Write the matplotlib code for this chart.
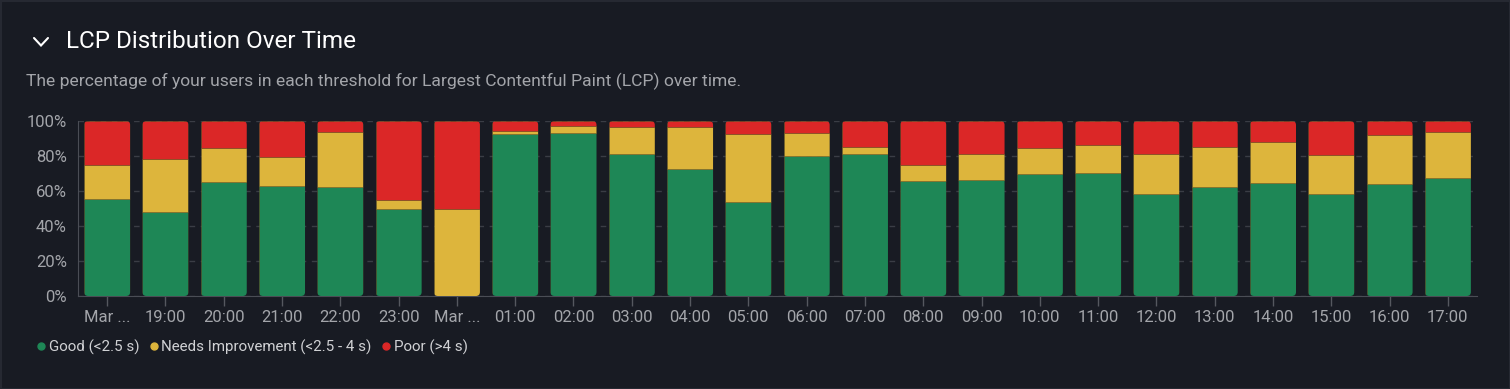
import matplotlib
matplotlib.use('Agg')
import matplotlib.pyplot as plt
from matplotlib.patches import FancyBboxPatch, Rectangle
from matplotlib.lines import Line2D

plt.rcParams['font.family'] = ['Roboto', 'DejaVu Sans']

# === 데이터 ===
labels = ['Mar ...', '19:00', '20:00', '21:00', '22:00', '23:00', 'Mar ...',
          '01:00', '02:00', '03:00', '04:00', '05:00', '06:00', '07:00', '08:00',
          '09:00', '10:00', '11:00', '12:00', '13:00', '14:00', '15:00', '16:00', '17:00']
good = [55.6, 48.2, 65.3, 62.9, 62.3, 49.5, 0.0, 92.6, 93.1, 81.0, 72.8, 53.9,
        79.8, 81.3, 65.9, 66.5, 69.5, 70.5, 58.5, 62.3, 64.4, 58.3, 64.2, 67.2]
needs = [19.4, 30.3, 19.5, 16.7, 31.2, 5.5, 49.5, 1.9, 4.2, 15.8, 24.0, 38.5,
         13.3, 4.0, 8.8, 14.8, 15.3, 15.6, 22.8, 23.0, 23.4, 22.5, 27.6, 26.3]
poor = [100 - g - n for g, n in zip(good, needs)]
series_names = ['Good (<2.5 s)', 'Needs Improvement (<2.5 - 4 s)', 'Poor (>4 s)']
yticks = [0, 20, 40, 60, 80, 100]

BG = '#181b23'
GREEN, YELLOW, RED = '#1e8756', '#ddb53c', '#db2727'
colors = [GREEN, YELLOW, RED]
TXT = '#a3a5aa'

W, H = 1510, 389
fig = plt.figure(figsize=(W / 100, H / 100), dpi=100, facecolor=BG)
# 패널 테두리
fig.patches.append(Rectangle((0.5 / W, 0.5 / H), 1 - 1 / W, 1 - 1 / H, transform=fig.transFigure,
                             facecolor='none', edgecolor='#262932', linewidth=1.5))

x0, x1, ytop, ybot = 78, 1477, 121, 296
ax = fig.add_axes([x0 / W, 1 - ybot / H, (x1 - x0) / W, (ybot - ytop) / H])
ax.set_facecolor(BG)

n = len(labels)
ax.set_xlim(-0.5, n - 0.5)
ax.set_ylim(0, 100)
bw = 0.79

# 가로 px 당 데이터 단위 비율 -> 둥근 모서리
ux = n / (x1 - x0)
uy = 100 / (ybot - ytop)
aspect = uy / ux

for i in range(n):
    clip = FancyBboxPatch((i - bw / 2, 0), bw, 100,
                          boxstyle='round,pad=0,rounding_size=%f' % (4 * ux),
                          mutation_aspect=aspect, transform=ax.transData,
                          facecolor='none', edgecolor='none')
    ax.add_patch(clip)
    bottom = 0
    for vals, c in zip([good, needs, poor], colors):
        v = vals[i]
        if v <= 0:
            continue
        bars = ax.bar(i, v, bw, bottom=bottom, color=c, edgecolor=(0.45, 0.38, 0.15, 0.45),
                      linewidth=0.7, zorder=3)
        for b in bars:
            b.set_clip_path(clip)
        bottom += v

ax.set_yticks(yticks)
ax.set_yticklabels([f'{t}%' for t in yticks])
ax.set_xticks(range(n))
ax.set_xticklabels(labels)
ax.grid(axis='y', color='#3a3d45', linestyle=(0, (4, 4)), linewidth=1, zorder=0)
for s in ['top', 'right']:
    ax.spines[s].set_visible(False)
for s in ['left', 'bottom']:
    ax.spines[s].set_color('#4a4d55')
ax.tick_params(axis='x', colors='#55585f', length=7, width=1, labelcolor=TXT, labelsize=12, pad=3)
ax.tick_params(axis='y', length=0, labelcolor=TXT, labelsize=12, pad=8)

# 제목 / 부제
fig.lines.append(Line2D([34 / W, 41 / W, 48 / W], [1 - 38 / H, 1 - 45.5 / H, 1 - 38 / H],
                        transform=fig.transFigure, color='white', linewidth=1.5,
                        solid_capstyle='round', solid_joinstyle='miter'))
fig.text(66 / W, 1 - 42 / H, 'LCP Distribution Over Time', color='white', fontsize=17.5,
         va='center', ha='left')
fig.text(26 / W, 1 - 81 / H, 'The percentage of your users in each threshold for Largest Contentful '
         'Paint (LCP) over time.', color=TXT, fontsize=12.6, va='center', ha='left')

# 범례
handles = [Line2D([0], [0], marker='o', linestyle='', markersize=5, color=c) for c in colors]
leg = fig.legend(handles, series_names, loc='center left', bbox_to_anchor=(20 / W, 1 - 347 / H),
                 ncol=3, frameon=False, handletextpad=0.0, columnspacing=0.45, handlelength=1,
                 fontsize=10.9)
for t in leg.get_texts():
    t.set_color('#d0d1d4')

plt.savefig('out.png', dpi=100, facecolor=BG)
